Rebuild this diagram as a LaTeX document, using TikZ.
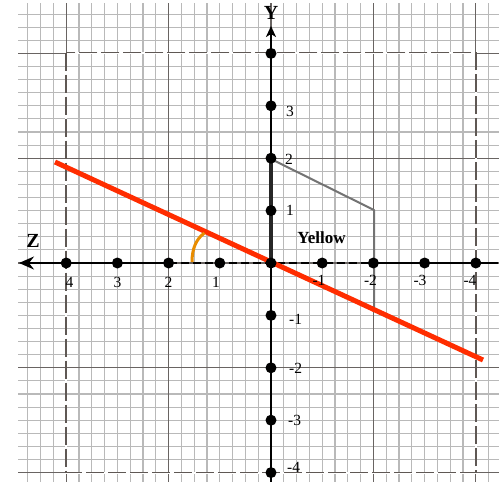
\documentclass[tikz,border=0pt]{standalone}
\usepackage{fontspec}
\setmainfont{Liberation Serif}
\usetikzlibrary{arrows.meta}
\definecolor{minorgrid}{RGB}{185,185,185}
\definecolor{majorgrid}{RGB}{105,100,98}
\definecolor{rectcol}{RGB}{95,88,84}
\definecolor{redline}{RGB}{255,45,0}
\definecolor{orangearc}{RGB}{232,140,0}
\definecolor{polygray}{RGB}{115,115,115}
\tikzset{
  minor/.style={draw=minorgrid,line width=1.1pt},
  major/.style={draw=majorgrid,line width=1.2pt},
  axisline/.style={draw=black,line width=2pt},
  dotnode/.style={circle,fill=black,inner sep=0pt,minimum size=11pt},
  numlabel/.style={font=\fontsize{15.5}{15.5}\selectfont,inner sep=0pt},
}
\begin{document}
\begin{tikzpicture}[x=1pt,y=-1pt]
\useasboundingbox (0,0) rectangle (499,482);
\fill[white] (0,0) rectangle (499,482);
% minor grid
\foreach \k in {-19,...,17} {
  \draw[minor] ({271+12.8*\k},3) -- ({271+12.8*\k},482);
}
\foreach \j in {-19,...,16} {
  \draw[minor] (18,{263+13.1*\j}) -- (499,{263+13.1*\j});
}
% major grid
\foreach \k in {-16,-8,0,8,16} {
  \draw[major] ({271+12.8*\k},3) -- ({271+12.8*\k},482);
}
\foreach \j in {-16,-8,0,8,16} {
  \draw[major] (18,{263+13.1*\j}) -- (499,{263+13.1*\j});
}
% dashed frame
\draw[white,line width=1.8pt] (66.2,52.6) rectangle (475.8,472.6);
\draw[rectcol,line width=1.6pt,dash pattern=on 18pt off 4pt] (66.2,52.6) rectangle (475.8,472.6);
% axes
\coordinate (xr) at (498,263);
\coordinate (xl) at (19,263);
\coordinate (yb) at (271,482);
\coordinate (yt) at (271,26);
\coordinate (xp2) at (168.6,263);
\coordinate (xm2) at (373.4,263);
\draw[axisline,-{Stealth[length=15pt,width=13pt,inset=5pt]}] (xp2) -- (xl);
\draw[axisline] (xm2) -- (xr);
\draw[axisline,line width=1.8pt,dash pattern=on 8pt off 4pt] (xp2) -- (xm2);
\draw[axisline,-{Stealth[length=11pt,width=10pt,inset=3pt]}] (yb) -- (yt);
% polygon
\coordinate (p2) at (271,158.2);
\coordinate (p0) at (271,263);
\coordinate (q1) at (374,210);
\coordinate (q2) at (374,310);
\draw[black!85,line width=4pt] (p2) -- (p0);
\draw[polygray,line width=2pt,line join=round] (273,160) -- (q1) -- (q2);
% red line
\coordinate (ra) at (55,162);
\coordinate (rb) at (483,360);
\draw[redline,line width=5pt] (ra) -- (rb);
% orange arc
\coordinate (oa) at (192,262);
\coordinate (ob) at (204.5,233);
\draw[orangearc,line width=3pt] (oa) .. controls (192,249) and (196,239) .. (ob);
% dots on x axis
\foreach \i/\n in {4/a,3/b,2/c,1/d,0/e,-1/f,-2/g,-3/h,-4/i} {
  \node[dotnode] (dx\n) at ({271-51.2*\i},263) {};
}
% dots on y axis
\foreach \j/\n in {4/a,3/b,2/c,1/d,-1/f,-2/g,-3/h,-4/i} {
  \node[dotnode] (dy\n) at (271,{263-52.4*\j}) {};
}
% x labels
\node[numlabel] (lx4) at (69.5,282.5) {4};
\node[numlabel] (lx3) at (117.5,282.5) {3};
\node[numlabel] (lx2) at (168.5,282.5) {2};
\node[numlabel] (lx1) at (216,282.5) {1};
\node[numlabel] (lxm1) at (319,280) {-1};
\node[numlabel] (lxm2) at (370.5,280) {-2};
\node[numlabel] (lxm3) at (420,280) {-3};
\node[numlabel] (lxm4) at (470,280) {-4};
% y labels
\node[numlabel,anchor=west] (ly3) at (286,111.5) {3};
\node[numlabel,anchor=west] (ly2) at (285,159.5) {2};
\node[numlabel,anchor=west] (ly1) at (286,210.5) {1};
\node[numlabel,anchor=west] (lym1) at (289,319) {-1};
\node[numlabel,anchor=west] (lym2) at (289,368) {-2};
\node[numlabel,anchor=west] (lym3) at (288,420.5) {-3};
\node[numlabel,anchor=west] (lym4) at (287,467) {-4};
% axis names
\node[font=\fontsize{20}{20}\selectfont\bfseries,inner sep=0pt] (ylab) at (271,13) {Y};
\node[font=\fontsize{20}{20}\selectfont\bfseries,inner sep=0pt] (zlab) at (33,241) {Z};
% Yellow
\node[font=\fontsize{17}{17}\selectfont\bfseries,inner sep=0pt] (yel) at (321.5,238) {Yellow};
\end{tikzpicture}
\end{document}
